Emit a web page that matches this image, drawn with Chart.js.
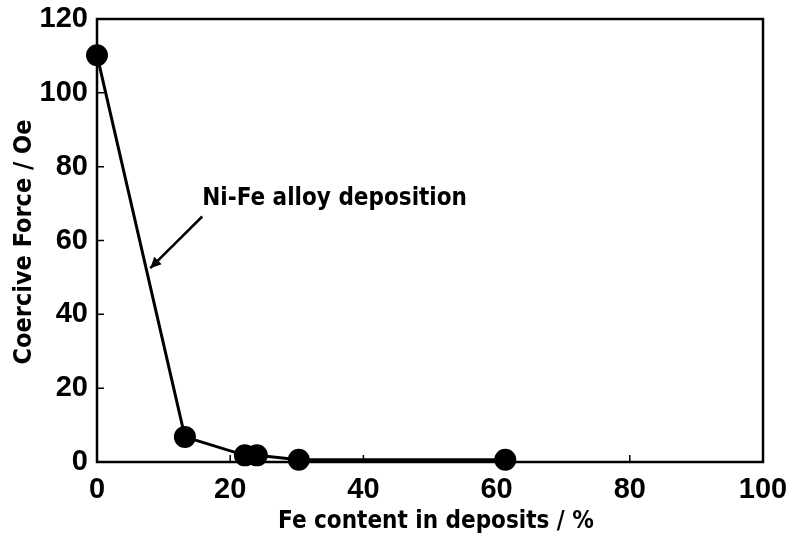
<!DOCTYPE html>
<html><head><meta charset="utf-8">
<script src="https://cdn.jsdelivr.net/npm/chart.js@4"></script>
<style>html,body{margin:0;padding:0;background:#fff}#wrap{width:793px;height:545px}</style>
</head><body><div id="wrap"><canvas id="c" width="793" height="545"></canvas></div>
<script>
const feContent = [0, 13.2, 22.2, 24.0, 30.3, 61.3];
const coerciveForce = [110.2, 6.8, 1.8, 1.8, 0.6, 0.6];
const xTicks = [0, 20, 40, 60, 80, 100];
const yTicks = [0, 20, 40, 60, 80, 100, 120];
const xTitle = 'Fe content in deposits / %';
const yTitle = 'Coercive Force / Oe';
const noteText = 'Ni-Fe alloy deposition';
const notePos = [15.8, 69.6];
const arrowFrom = [15.8, 66.5];
const arrowTo = [8.0, 52.5];

const FONT = '"DejaVu Sans Condensed","Liberation Sans",Arial,sans-serif';
const TICKFONT = '"Liberation Sans",Arial,sans-serif';

const frame = {
  id: 'frame',
  afterDraw(chart) {
    const {ctx, chartArea: a, scales: {x, y}} = chart;
    ctx.save();
    ctx.strokeStyle = '#000';
    ctx.lineWidth = 2.5;
    ctx.strokeRect(a.left, a.top, a.right - a.left, a.bottom - a.top);
    ctx.lineWidth = 1.5;
    ctx.beginPath();
    for (const t of xTicks) { const px = x.getPixelForValue(t); ctx.moveTo(px, a.bottom); ctx.lineTo(px, a.bottom - 7); }
    for (const t of yTicks) { const py = y.getPixelForValue(t); ctx.moveTo(a.left, py); ctx.lineTo(a.left + 7, py); }
    ctx.stroke();
    ctx.fillStyle = '#000';
    ctx.font = 'bold 29px ' + TICKFONT;
    ctx.textAlign = 'center'; ctx.textBaseline = 'middle';
    for (const t of xTicks) ctx.fillText(String(t), x.getPixelForValue(t), a.bottom + 28);
    ctx.textAlign = 'right';
    for (const t of yTicks) ctx.fillText(String(t), a.left - 9, y.getPixelForValue(t));
    ctx.font = 'bold 24px ' + FONT;
    ctx.textAlign = 'center';
    ctx.fillText(xTitle, (a.left + a.right) / 2 + 6, a.bottom + 60);
    ctx.save();
    ctx.translate(24, 242);
    ctx.rotate(-Math.PI / 2);
    ctx.font = 'bold 25px ' + FONT;
    ctx.fillText(yTitle, 0, 0);
    ctx.restore();
    ctx.font = 'bold 24px ' + FONT;
    ctx.textAlign = 'left'; ctx.textBaseline = 'alphabetic';
    ctx.fillText(noteText, x.getPixelForValue(notePos[0]), y.getPixelForValue(notePos[1]));
    const x1 = x.getPixelForValue(arrowFrom[0]), y1 = y.getPixelForValue(arrowFrom[1]);
    const x2 = x.getPixelForValue(arrowTo[0]), y2 = y.getPixelForValue(arrowTo[1]);
    ctx.lineWidth = 2.5;
    ctx.beginPath(); ctx.moveTo(x1, y1); ctx.lineTo(x2, y2); ctx.stroke();
    const ang = Math.atan2(y2 - y1, x2 - x1), L = 12, w = 0.45;
    ctx.beginPath();
    ctx.moveTo(x2, y2);
    ctx.lineTo(x2 - L * Math.cos(ang - w), y2 - L * Math.sin(ang - w));
    ctx.lineTo(x2 - L * Math.cos(ang + w), y2 - L * Math.sin(ang + w));
    ctx.closePath(); ctx.fill();
    ctx.restore();
  }
};

new Chart(document.getElementById('c'), {
  type: 'scatter',
  data: {
    datasets: [{
      data: feContent.map((v, i) => ({x: v, y: coerciveForce[i]})),
      showLine: true,
      borderColor: '#000',
      backgroundColor: '#000',
      borderWidth: 3,
      pointRadius: 9.5,
      pointHoverRadius: 9.5,
      pointBackgroundColor: '#000',
      pointBorderColor: '#000',
      clip: false
    }]
  },
  options: {
    responsive: false,
    animation: false,
    devicePixelRatio: 1,
    layout: {padding: {top: 19, right: 30, left: 0, bottom: 0}},
    plugins: {legend: {display: false}, tooltip: {enabled: false}},
    scales: {
      x: {
        type: 'linear', min: 0, max: 100,
        grid: {display: false}, border: {display: false},
        ticks: {display: false},
        afterFit(s) { s.height = 83; }
      },
      y: {
        type: 'linear', min: 0, max: 120,
        grid: {display: false}, border: {display: false},
        ticks: {display: false},
        afterFit(s) { s.width = 97; }
      }
    }
  },
  plugins: [frame]
});
</script>
</body></html>
